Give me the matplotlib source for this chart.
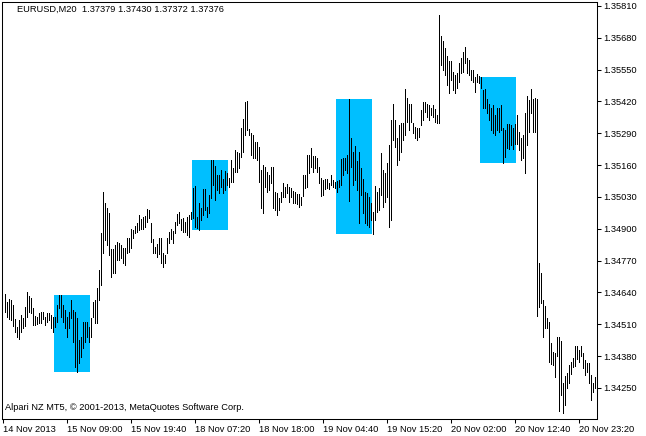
import matplotlib
matplotlib.use('Agg')
import matplotlib.pyplot as plt
from matplotlib.patches import Rectangle
import numpy as np

plt.rcParams['font.family'] = ['Liberation Sans', 'DejaVu Sans']

symbol_title = 'EURUSD,M20  1.37379 1.37430 1.37372 1.37376'
copyright_note = 'Alpari NZ MT5, \u00a9 2001-2013, MetaQuotes Software Corp.'

# one label every 32 bars (10h40m of M20 bars)
time_labels = ['14 Nov 2013', '15 Nov 09:00', '15 Nov 19:40', '18 Nov 07:20',
               '18 Nov 18:00', '19 Nov 04:40', '19 Nov 15:20', '20 Nov 02:00',
               '20 Nov 12:40', '20 Nov 23:20']
bars_per_label = 32

price_ticks = [1.35810, 1.35680, 1.35550, 1.35420, 1.35290, 1.35160, 1.35030,
               1.34900, 1.34770, 1.34640, 1.34510, 1.34380, 1.34250]

high = [
    1.34634, 1.34601, 1.34613, 1.34609, 1.34589, 1.34531, 1.34498, 1.34527, 1.34548, 1.34535,
    1.34580, 1.34642, 1.34625, 1.34617, 1.34576, 1.34543, 1.34539, 1.34556, 1.34560, 1.34560,
    1.34539, 1.34556, 1.34556, 1.34548, 1.34539, 1.34539, 1.34589, 1.34630, 1.34630, 1.34589,
    1.34568, 1.34539, 1.34560, 1.34609, 1.34568, 1.34560, 1.34535, 1.34446, 1.34458, 1.34519,
    1.34519, 1.34519, 1.34498, 1.34535, 1.34601, 1.34609, 1.34658, 1.34732, 1.34883, 1.35050,
    1.35005, 1.34984, 1.34965, 1.34817, 1.34817, 1.34834, 1.34846, 1.34842, 1.34834, 1.34821,
    1.34821, 1.34862, 1.34862, 1.34899, 1.34895, 1.34911, 1.34924, 1.34957, 1.34940, 1.34948,
    1.34952, 1.34980, 1.34977, 1.34924, 1.34858, 1.34825, 1.34838, 1.34862, 1.34862, 1.34801,
    1.34793, 1.34862, 1.34887, 1.34899, 1.34891, 1.34928, 1.34961, 1.34969, 1.34940, 1.34944,
    1.34928, 1.34948, 1.34957, 1.34969, 1.35066, 1.35074, 1.34948, 1.35005, 1.34984, 1.35062,
    1.35062, 1.34988, 1.35038, 1.35181, 1.35181, 1.35156, 1.35120, 1.35120, 1.35140, 1.35103,
    1.35136, 1.35128, 1.35107, 1.35181, 1.35148, 1.35222, 1.35214, 1.35210, 1.35311, 1.35348,
    1.35418, 1.35422, 1.35307, 1.35291, 1.35283, 1.35255, 1.35255, 1.35234, 1.35140, 1.35161,
    1.35152, 1.35132, 1.35120, 1.35152, 1.35152, 1.35050, 1.35046, 1.35025, 1.35050, 1.35087,
    1.35070, 1.35083, 1.35070, 1.35066, 1.35054, 1.35050, 1.35042, 1.35042, 1.35029, 1.35120,
    1.35120, 1.35202, 1.35202, 1.35230, 1.35197, 1.35197, 1.35189, 1.35152, 1.35107, 1.35099,
    1.35103, 1.35103, 1.35087, 1.35120, 1.35099, 1.35091, 1.35095, 1.35099, 1.35185, 1.35189,
    1.35189, 1.35202, 1.35430, 1.35270, 1.35214, 1.35238, 1.35177, 1.35214, 1.35148, 1.35103,
    1.35050, 1.35046, 1.35029, 1.35005, 1.34969, 1.35074, 1.35050, 1.35066, 1.35210, 1.35140,
    1.35128, 1.35169, 1.35243, 1.35344, 1.35410, 1.35344, 1.35270, 1.35324, 1.35332, 1.35332,
    1.35470, 1.35434, 1.35410, 1.35410, 1.35332, 1.35315, 1.35311, 1.35311, 1.35385, 1.35418,
    1.35418, 1.35410, 1.35406, 1.35393, 1.35406, 1.35389, 1.35365, 1.35773, 1.35686, 1.35667,
    1.35638, 1.35605, 1.35585, 1.35585, 1.35540, 1.35528, 1.35536, 1.35577, 1.35597, 1.35622,
    1.35642, 1.35597, 1.35589, 1.35548, 1.35548, 1.35519, 1.35532, 1.35523, 1.35519, 1.35467,
    1.35470, 1.35430, 1.35410, 1.35393, 1.35406, 1.35365, 1.35393, 1.35393, 1.35406, 1.35311,
    1.35303, 1.35328, 1.35328, 1.35324, 1.35311, 1.35328, 1.35365, 1.35295, 1.35270, 1.35283,
    1.35373, 1.35442, 1.35426, 1.35470, 1.35430, 1.35434, 1.35430, 1.34760, 1.34720, 1.34609,
    1.34584, 1.34535, 1.34519, 1.34434, 1.34397, 1.34393, 1.34458, 1.34458, 1.34442, 1.34270,
    1.34298, 1.34311, 1.34344, 1.34356, 1.34372, 1.34421, 1.34421, 1.34405, 1.34421, 1.34393,
    1.34364, 1.34352, 1.34352, 1.34303, 1.34270, 1.34294, 1.34303,
]

low = [
    1.34560, 1.34539, 1.34531, 1.34527, 1.34502, 1.34479, 1.34458, 1.34450, 1.34479, 1.34494,
    1.34502, 1.34539, 1.34560, 1.34556, 1.34507, 1.34507, 1.34511, 1.34515, 1.34515, 1.34531,
    1.34507, 1.34519, 1.34527, 1.34494, 1.34479, 1.34498, 1.34519, 1.34576, 1.34539, 1.34519,
    1.34494, 1.34458, 1.34494, 1.34535, 1.34438, 1.34335, 1.34315, 1.34352, 1.34376, 1.34413,
    1.34438, 1.34458, 1.34438, 1.34458, 1.34539, 1.34515, 1.34515, 1.34609, 1.34671, 1.34801,
    1.34854, 1.34834, 1.34793, 1.34703, 1.34720, 1.34720, 1.34772, 1.34772, 1.34780, 1.34760,
    1.34752, 1.34801, 1.34805, 1.34821, 1.34862, 1.34883, 1.34887, 1.34895, 1.34899, 1.34899,
    1.34907, 1.34928, 1.34944, 1.34846, 1.34801, 1.34801, 1.34784, 1.34797, 1.34760, 1.34743,
    1.34760, 1.34801, 1.34842, 1.34858, 1.34842, 1.34883, 1.34916, 1.34924, 1.34895, 1.34887,
    1.34887, 1.34875, 1.34866, 1.34940, 1.34944, 1.34907, 1.34903, 1.34895, 1.34936, 1.34957,
    1.34977, 1.34948, 1.34965, 1.35025, 1.35079, 1.35017, 1.35058, 1.35046, 1.35070, 1.35046,
    1.35058, 1.35079, 1.35070, 1.35091, 1.35091, 1.35132, 1.35132, 1.35148, 1.35193, 1.35214,
    1.35283, 1.35303, 1.35283, 1.35202, 1.35189, 1.35189, 1.35181, 1.35091, 1.34984, 1.34965,
    1.35070, 1.35050, 1.35058, 1.35087, 1.34984, 1.34977, 1.34957, 1.34977, 1.35009, 1.35029,
    1.35029, 1.35046, 1.35009, 1.35029, 1.35005, 1.35005, 1.35001, 1.34988, 1.34997, 1.35033,
    1.35066, 1.35070, 1.35128, 1.35152, 1.35132, 1.35148, 1.35132, 1.35087, 1.35033, 1.35038,
    1.35062, 1.35066, 1.35062, 1.35079, 1.35070, 1.35066, 1.35050, 1.35070, 1.35079, 1.35120,
    1.35140, 1.35128, 1.35013, 1.35152, 1.35079, 1.35099, 1.35058, 1.34924, 1.35038, 1.34965,
    1.34924, 1.34916, 1.34907, 1.34936, 1.34879, 1.34936, 1.34969, 1.34977, 1.35038, 1.34988,
    1.35009, 1.35029, 1.34907, 1.34936, 1.35263, 1.35234, 1.35161, 1.35181, 1.35214, 1.35263,
    1.35283, 1.35336, 1.35303, 1.35336, 1.35291, 1.35270, 1.35263, 1.35274, 1.35324, 1.35344,
    1.35377, 1.35356, 1.35344, 1.35365, 1.35356, 1.35336, 1.35332, 1.35332, 1.35569, 1.35548,
    1.35528, 1.35487, 1.35455, 1.35507, 1.35467, 1.35455, 1.35474, 1.35499, 1.35536, 1.35540,
    1.35577, 1.35536, 1.35528, 1.35507, 1.35499, 1.35459, 1.35499, 1.35495, 1.35474, 1.35393,
    1.35393, 1.35373, 1.35344, 1.35303, 1.35291, 1.35283, 1.35303, 1.35295, 1.35303, 1.35169,
    1.35193, 1.35230, 1.35226, 1.35243, 1.35226, 1.35247, 1.35247, 1.35222, 1.35181, 1.35189,
    1.35128, 1.35243, 1.35295, 1.35373, 1.35295, 1.35295, 1.34543, 1.34580, 1.34597, 1.34458,
    1.34494, 1.34494, 1.34356, 1.34348, 1.34344, 1.34294, 1.34380, 1.34156, 1.34221, 1.34148,
    1.34181, 1.34249, 1.34270, 1.34307, 1.34335, 1.34339, 1.34368, 1.34356, 1.34380, 1.34331,
    1.34303, 1.34315, 1.34270, 1.34201, 1.34233, 1.34249, 1.34249,
]

# highlighted zones: first and last bar of each box
zones = [(25, 43), (94, 112), (166, 184), (238, 256)]

W, H = 646, 436
fig = plt.figure(figsize=(W / 100, H / 100), dpi=100)
fig.patch.set_facecolor('white')
# plot area in pixels: x 2..597, y 2..419
ax = fig.add_axes([2 / W, 17 / H, 595 / W, 417 / H])

high = np.array(high)
low = np.array(low)
idx = np.arange(len(high))

for first, last in zones:
    top = high[first:last + 1].max()
    bottom = low[first:last + 1].min()
    ax.add_patch(Rectangle((first - 0.25, bottom), last - first, top - bottom,
                           facecolor='#00BFFF', edgecolor='none', zorder=1))

# 1 px wide bars, 2 px apart
ax.vlines(idx, low, high, colors='black', linewidth=0.68,
          antialiased=False, zorder=2)

# shift by a quarter bar so the bars land on pixel centres
ax.set_xlim(-1.25, 296.25)
ax.set_ylim(1.341231, 1.358258)

for sp in ax.spines.values():
    sp.set_color('black')
    sp.set_linewidth(0.75)

ax.yaxis.tick_right()
ax.set_yticks(price_ticks)
ax.set_yticklabels([f'{p:.5f}' for p in price_ticks])

ax.set_xticks([bars_per_label * k - 0.75 for k in range(len(time_labels))])
ax.set_xticklabels(time_labels)
for lab in ax.get_xticklabels():
    lab.set_horizontalalignment('left')

ax.tick_params(axis='both', direction='out', length=3, width=0.75,
               color='black', labelsize=6.7, labelcolor='black')
ax.tick_params(axis='y', pad=1.5)
ax.tick_params(axis='x', pad=1.5)

fig.text(17 / W, 1 - 9.5 / H, symbol_title, fontsize=6.7, ha='left', va='center')
fig.text(5 / W, 1 - 407.5 / H, copyright_note, fontsize=6.7, ha='left', va='center')

fig.savefig('out.png', dpi=100)
